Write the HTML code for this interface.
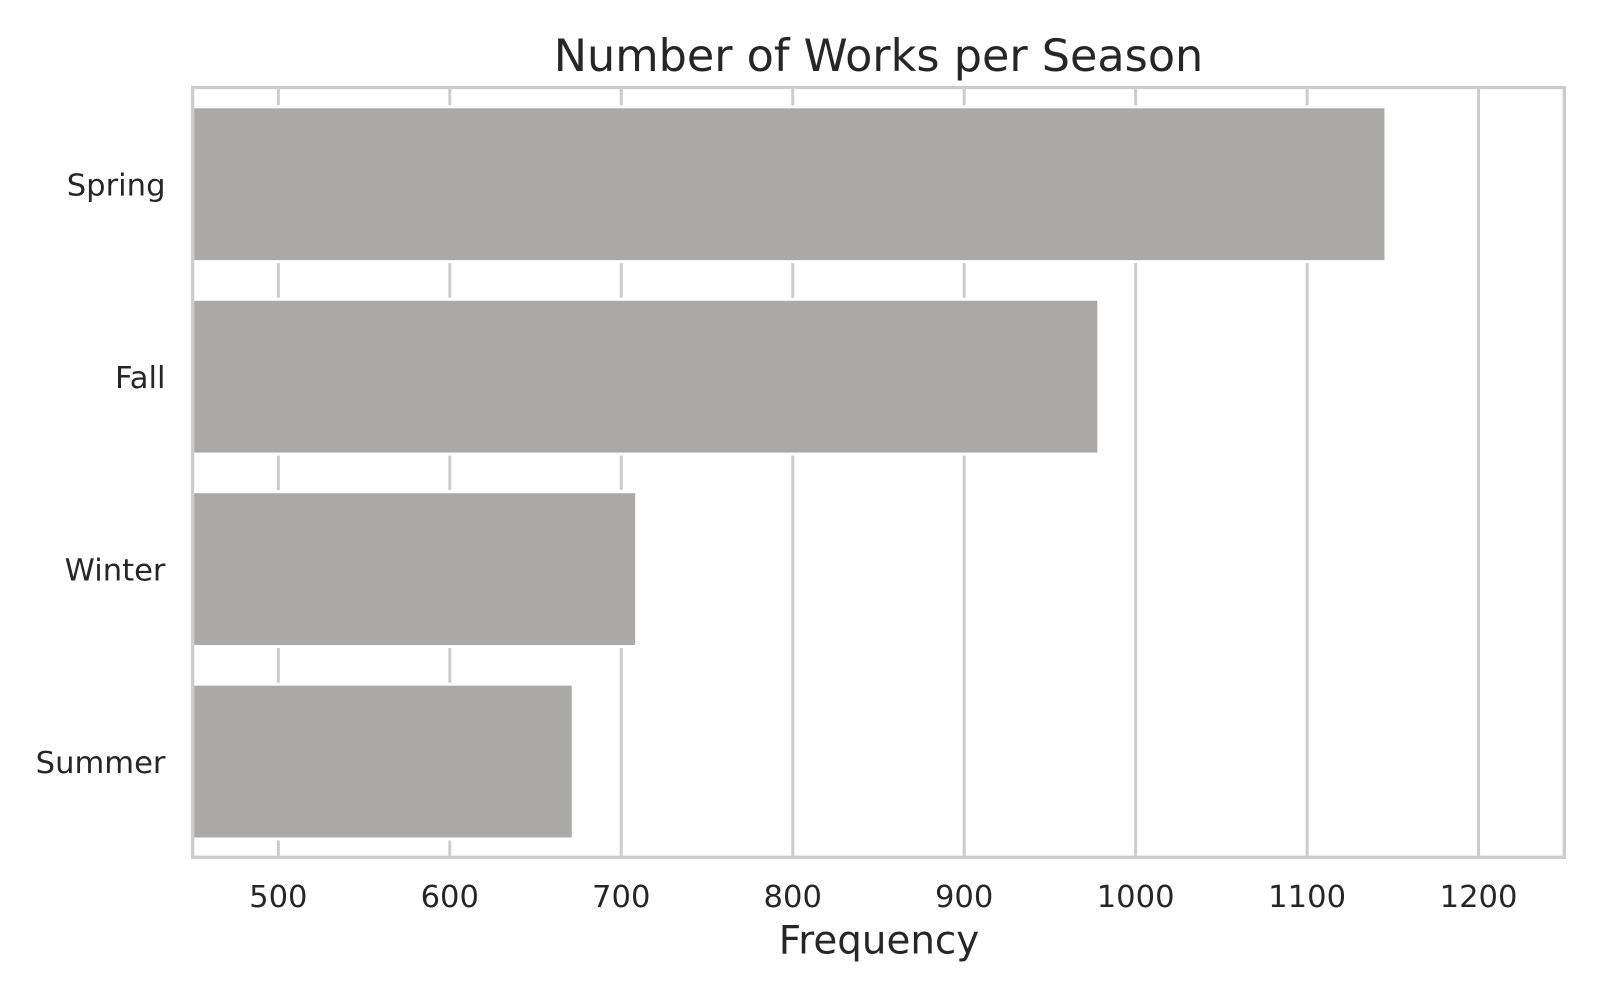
<!DOCTYPE html>
<html lang="en">
<head>
<meta charset="utf-8">
<title>Number of Works per Season</title>
<style>
  html, body { margin: 0; padding: 0; background: #fff; width: 1600px; height: 1000px; overflow: hidden; }
  svg { display: block; }
  text { font-family: "DejaVu Sans", "Liberation Sans", sans-serif; fill: #262626; }
</style>
</head>
<body>
<svg id="chart" xmlns="http://www.w3.org/2000/svg" width="1600" height="1000" viewBox="0 0 1600 1000">
  <rect x="0" y="0" width="1600" height="1000" fill="#ffffff"/>
  <defs>
    <clipPath id="plot-clip"><rect x="192.6" y="87.5" width="1371.7" height="769.8"/></clipPath>
  </defs>
  <g id="grid"></g>
  <g id="bars" clip-path="url(#plot-clip)"></g>
  <rect x="192.6" y="87.5" width="1371.7" height="769.8" fill="none" stroke="#cccccc" stroke-width="3.3"/>
  <g id="x-ticks"></g>
  <g id="y-ticks"></g>
  <text x="878.5" y="71" font-size="44.5" text-anchor="middle">Number of Works per Season</text>
  <text x="879" y="953.7" font-size="38.8" text-anchor="middle">Frequency</text>
</svg>
<script>
const categories = ["Spring", "Fall", "Winter", "Summer"];
const frequencies = [1146, 978.5, 709, 672];
const xTickValues = [500, 600, 700, 800, 900, 1000, 1100, 1200];
const xDomain = [450, 1250];

const plotLeft = 192.6, plotRight = 1564.3, plotTop = 87.5, plotBottom = 857.3;
const SVG_NS = "http://www.w3.org/2000/svg";

function xScale(v) {
  return plotLeft + (v - xDomain[0]) / (xDomain[1] - xDomain[0]) * (plotRight - plotLeft);
}
function yBandCenter(i) {
  const step = (plotBottom - plotTop) / categories.length;
  return plotTop + step * (i + 0.5) + 0.5;
}
function make(tag, attrs) {
  const el = document.createElementNS(SVG_NS, tag);
  for (const k in attrs) el.setAttribute(k, attrs[k]);
  return el;
}

const gridGroup = document.getElementById("grid");
const barGroup = document.getElementById("bars");
const xTickGroup = document.getElementById("x-ticks");
const yTickGroup = document.getElementById("y-ticks");

xTickValues.forEach(function (v) {
  const line = make("line", { x1: xScale(v), x2: xScale(v), y1: plotTop, y2: plotBottom, stroke: "#cccccc", "stroke-width": 3 });
  
  
  gridGroup.appendChild(line);

  const label = make("text", { x: xScale(v), y: 907, "font-size": 30.6, "text-anchor": "middle" });
  label.textContent = String(v);
  
  
  xTickGroup.appendChild(label);
});

const barHeight = 154.8;
categories.forEach(function (name, i) {
  const cy = yBandCenter(i);
  const bar = make("rect", {
    x: xScale(xDomain[0]),
    y: cy - barHeight / 2,
    width: xScale(frequencies[i]) - xScale(xDomain[0]),
    height: barHeight,
    fill: "#aaa9a7",
    stroke: "#ffffff",
    "stroke-width": 3
  });
  
  
  barGroup.appendChild(bar);

  const label = make("text", { x: 165.5, y: cy + 11.2, "font-size": 30.6, "text-anchor": "end" });
  label.textContent = name;
  
  
  yTickGroup.appendChild(label);
});
</script>
</body>
</html>
